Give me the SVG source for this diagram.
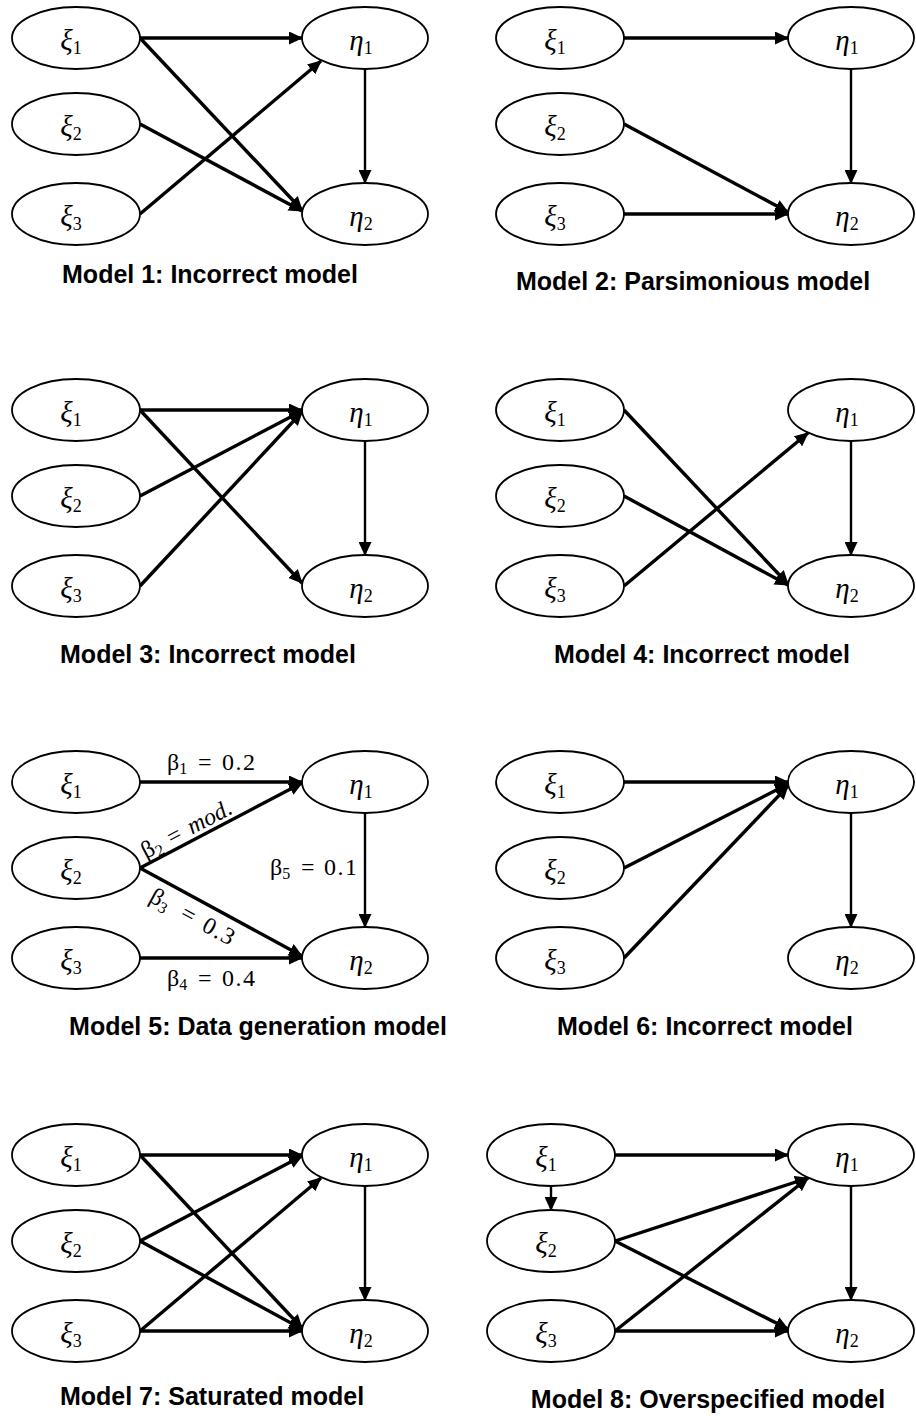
<svg xmlns="http://www.w3.org/2000/svg" width="916" height="1416" viewBox="0 0 916 1416">
<defs>
<marker id="ah" markerUnits="userSpaceOnUse" markerWidth="14" markerHeight="13" refX="13" refY="6.5" orient="auto">
<path d="M0,0 L14,6.5 L0,13 z" fill="#000"/>
</marker>
<style>
.nd{fill:#fff;stroke:#000;stroke-width:1.8}
.lbl{font-family:"Liberation Serif","DejaVu Serif",serif;font-style:italic;font-size:29px;text-anchor:middle;fill:#000}
.sub{font-style:normal;font-size:18px}
.e{stroke:#000;stroke-width:3.4;fill:none;marker-end:url(#ah)}
.v{stroke:#000;stroke-width:2.4;fill:none;marker-end:url(#ah)}
.cap{font-family:"Liberation Sans",Arial,sans-serif;font-weight:bold;font-size:25px;text-anchor:middle;fill:#000}
.coef{font-family:"Liberation Serif","DejaVu Serif",serif;font-size:24px;fill:#000}
.cs{font-size:16px}
</style>
</defs>

<g id="connectors">
<g id="c-m1">
<path class="e" d="M140,38 L302,38"/>
<path class="e" d="M140,38 L302,210"/>
<path class="e" d="M140,124 L302,211"/>
<path class="e" d="M140,214 L321,61"/>
<path class="v" d="M365,69 L365,183"/>
</g>
<g id="c-m2">
<path class="e" d="M624,38 L788,38"/>
<path class="e" d="M624,124 L788,212"/>
<path class="e" d="M624,214 L788,214"/>
<path class="v" d="M851,69 L851,183"/>
</g>
<g id="c-m3">
<path class="e" d="M140,410 L302,410"/>
<path class="e" d="M140,410 L302,583"/>
<path class="e" d="M140,496 L302,411"/>
<path class="e" d="M140,586 L302,412"/>
<path class="v" d="M365,441 L365,555"/>
</g>
<g id="c-m4">
<path class="e" d="M624,410 L788,584"/>
<path class="e" d="M624,496 L788,585"/>
<path class="e" d="M624,586 L808,433"/>
<path class="v" d="M851,441 L851,555"/>
</g>
<g id="c-m5">
<path class="e" d="M140,782 L302,782"/>
<path class="e" d="M140,868 L302,783"/>
<path class="e" d="M140,868 L302,956"/>
<path class="e" d="M140,958 L302,958"/>
<path class="v" d="M365,813 L365,927"/>
</g>
<g id="c-m6">
<path class="e" d="M624,782 L788,782"/>
<path class="e" d="M624,868 L788,784"/>
<path class="e" d="M624,958 L788,786"/>
<path class="v" d="M851,813 L851,927"/>
</g>
<g id="c-m7">
<path class="e" d="M140,1155 L302,1155"/>
<path class="e" d="M140,1155 L302,1328"/>
<path class="e" d="M140,1241 L302,1156"/>
<path class="e" d="M140,1241 L302,1329"/>
<path class="e" d="M140,1331 L321,1178"/>
<path class="e" d="M140,1331 L302,1331"/>
<path class="v" d="M365,1186 L365,1300"/>
</g>
<g id="c-m8">
<path class="e" d="M615,1155 L788,1155"/>
<path class="v" d="M551,1186 L551,1210"/>
<path class="e" d="M615,1241 L808,1178"/>
<path class="e" d="M615,1331 L808,1178"/>
<path class="e" d="M615,1241 L788,1329"/>
<path class="e" d="M615,1331 L788,1331"/>
<path class="v" d="M851,1186 L851,1300"/>
</g>
</g>

<!-- Model 1 -->
<g id="m1-xi1"><ellipse class="nd" cx="76" cy="38" rx="64" ry="31"/><text class="lbl" x="71" y="50">ξ<tspan class="sub" dy="4">1</tspan></text></g>
<g id="m1-xi2"><ellipse class="nd" cx="76" cy="124" rx="64" ry="31"/><text class="lbl" x="71" y="136">ξ<tspan class="sub" dy="4">2</tspan></text></g>
<g id="m1-xi3"><ellipse class="nd" cx="76" cy="214" rx="64" ry="31"/><text class="lbl" x="71" y="226">ξ<tspan class="sub" dy="4">3</tspan></text></g>
<g id="m1-eta1"><ellipse class="nd" cx="365" cy="38" rx="63" ry="31"/><text class="lbl" x="361" y="50">η<tspan class="sub" dy="4">1</tspan></text></g>
<g id="m1-eta2"><ellipse class="nd" cx="365" cy="214" rx="63" ry="31"/><text class="lbl" x="361" y="226">η<tspan class="sub" dy="4">2</tspan></text></g>
<text class="cap" x="210" y="283">Model 1: Incorrect model</text>

<!-- Model 2 -->
<g id="m2-xi1"><ellipse class="nd" cx="560" cy="38" rx="64" ry="31"/><text class="lbl" x="555" y="50">ξ<tspan class="sub" dy="4">1</tspan></text></g>
<g id="m2-xi2"><ellipse class="nd" cx="560" cy="124" rx="64" ry="31"/><text class="lbl" x="555" y="136">ξ<tspan class="sub" dy="4">2</tspan></text></g>
<g id="m2-xi3"><ellipse class="nd" cx="560" cy="214" rx="64" ry="31"/><text class="lbl" x="555" y="226">ξ<tspan class="sub" dy="4">3</tspan></text></g>
<g id="m2-eta1"><ellipse class="nd" cx="851" cy="38" rx="63" ry="31"/><text class="lbl" x="847" y="50">η<tspan class="sub" dy="4">1</tspan></text></g>
<g id="m2-eta2"><ellipse class="nd" cx="851" cy="214" rx="63" ry="31"/><text class="lbl" x="847" y="226">η<tspan class="sub" dy="4">2</tspan></text></g>
<text class="cap" x="693" y="290">Model 2: Parsimonious model</text>

<!-- Model 3 -->
<g id="m3-xi1"><ellipse class="nd" cx="76" cy="410" rx="64" ry="31"/><text class="lbl" x="71" y="422">ξ<tspan class="sub" dy="4">1</tspan></text></g>
<g id="m3-xi2"><ellipse class="nd" cx="76" cy="496" rx="64" ry="31"/><text class="lbl" x="71" y="508">ξ<tspan class="sub" dy="4">2</tspan></text></g>
<g id="m3-xi3"><ellipse class="nd" cx="76" cy="586" rx="64" ry="31"/><text class="lbl" x="71" y="598">ξ<tspan class="sub" dy="4">3</tspan></text></g>
<g id="m3-eta1"><ellipse class="nd" cx="365" cy="410" rx="63" ry="31"/><text class="lbl" x="361" y="422">η<tspan class="sub" dy="4">1</tspan></text></g>
<g id="m3-eta2"><ellipse class="nd" cx="365" cy="586" rx="63" ry="31"/><text class="lbl" x="361" y="598">η<tspan class="sub" dy="4">2</tspan></text></g>
<text class="cap" x="208" y="663">Model 3: Incorrect model</text>

<!-- Model 4 -->
<g id="m4-xi1"><ellipse class="nd" cx="560" cy="410" rx="64" ry="31"/><text class="lbl" x="555" y="422">ξ<tspan class="sub" dy="4">1</tspan></text></g>
<g id="m4-xi2"><ellipse class="nd" cx="560" cy="496" rx="64" ry="31"/><text class="lbl" x="555" y="508">ξ<tspan class="sub" dy="4">2</tspan></text></g>
<g id="m4-xi3"><ellipse class="nd" cx="560" cy="586" rx="64" ry="31"/><text class="lbl" x="555" y="598">ξ<tspan class="sub" dy="4">3</tspan></text></g>
<g id="m4-eta1"><ellipse class="nd" cx="851" cy="410" rx="63" ry="31"/><text class="lbl" x="847" y="422">η<tspan class="sub" dy="4">1</tspan></text></g>
<g id="m4-eta2"><ellipse class="nd" cx="851" cy="586" rx="63" ry="31"/><text class="lbl" x="847" y="598">η<tspan class="sub" dy="4">2</tspan></text></g>
<text class="cap" x="702" y="663">Model 4: Incorrect model</text>

<!-- Model 5 -->
<g id="m5-xi1"><ellipse class="nd" cx="76" cy="782" rx="64" ry="31"/><text class="lbl" x="71" y="794">ξ<tspan class="sub" dy="4">1</tspan></text></g>
<g id="m5-xi2"><ellipse class="nd" cx="76" cy="868" rx="64" ry="31"/><text class="lbl" x="71" y="880">ξ<tspan class="sub" dy="4">2</tspan></text></g>
<g id="m5-xi3"><ellipse class="nd" cx="76" cy="958" rx="64" ry="31"/><text class="lbl" x="71" y="970">ξ<tspan class="sub" dy="4">3</tspan></text></g>
<g id="m5-eta1"><ellipse class="nd" cx="365" cy="782" rx="63" ry="31"/><text class="lbl" x="361" y="794">η<tspan class="sub" dy="4">1</tspan></text></g>
<g id="m5-eta2"><ellipse class="nd" cx="365" cy="958" rx="63" ry="31"/><text class="lbl" x="361" y="970">η<tspan class="sub" dy="4">2</tspan></text></g>
<g id="m5-coefs">
<text class="coef" x="167" y="770">β<tspan class="cs" dy="4">1</tspan><tspan x="198" dy="-4">=</tspan><tspan x="222" letter-spacing="1.5">0.2</tspan></text>
<text class="coef" x="167" y="986">β<tspan class="cs" dy="4">4</tspan><tspan x="198" dy="-4">=</tspan><tspan x="222" letter-spacing="1.5">0.4</tspan></text>
<text class="coef" x="270" y="875">β<tspan class="cs" dy="4">5</tspan><tspan x="301" dy="-4">=</tspan><tspan x="324" letter-spacing="1.5">0.1</tspan></text>
<text class="coef" transform="translate(146,859) rotate(-27.7)" x="0" y="0">β<tspan class="cs" dy="4">2</tspan><tspan x="29" dy="-4">=</tspan><tspan x="52" font-style="italic">mod.</tspan></text>
<text class="coef" transform="translate(148,901) rotate(28.8)" x="0" y="0">β<tspan class="cs" dy="4">3</tspan><tspan x="35" dy="-4">=</tspan><tspan x="60" letter-spacing="1.5">0.3</tspan></text>
</g>
<text class="cap" x="258" y="1035">Model 5: Data generation model</text>

<!-- Model 6 -->
<g id="m6-xi1"><ellipse class="nd" cx="560" cy="782" rx="64" ry="31"/><text class="lbl" x="555" y="794">ξ<tspan class="sub" dy="4">1</tspan></text></g>
<g id="m6-xi2"><ellipse class="nd" cx="560" cy="868" rx="64" ry="31"/><text class="lbl" x="555" y="880">ξ<tspan class="sub" dy="4">2</tspan></text></g>
<g id="m6-xi3"><ellipse class="nd" cx="560" cy="958" rx="64" ry="31"/><text class="lbl" x="555" y="970">ξ<tspan class="sub" dy="4">3</tspan></text></g>
<g id="m6-eta1"><ellipse class="nd" cx="851" cy="782" rx="63" ry="31"/><text class="lbl" x="847" y="794">η<tspan class="sub" dy="4">1</tspan></text></g>
<g id="m6-eta2"><ellipse class="nd" cx="851" cy="958" rx="63" ry="31"/><text class="lbl" x="847" y="970">η<tspan class="sub" dy="4">2</tspan></text></g>
<text class="cap" x="705" y="1035">Model 6: Incorrect model</text>

<!-- Model 7 -->
<g id="m7-xi1"><ellipse class="nd" cx="76" cy="1155" rx="64" ry="31"/><text class="lbl" x="71" y="1167">ξ<tspan class="sub" dy="4">1</tspan></text></g>
<g id="m7-xi2"><ellipse class="nd" cx="76" cy="1241" rx="64" ry="31"/><text class="lbl" x="71" y="1253">ξ<tspan class="sub" dy="4">2</tspan></text></g>
<g id="m7-xi3"><ellipse class="nd" cx="76" cy="1331" rx="64" ry="31"/><text class="lbl" x="71" y="1343">ξ<tspan class="sub" dy="4">3</tspan></text></g>
<g id="m7-eta1"><ellipse class="nd" cx="365" cy="1155" rx="63" ry="31"/><text class="lbl" x="361" y="1167">η<tspan class="sub" dy="4">1</tspan></text></g>
<g id="m7-eta2"><ellipse class="nd" cx="365" cy="1331" rx="63" ry="31"/><text class="lbl" x="361" y="1343">η<tspan class="sub" dy="4">2</tspan></text></g>
<text class="cap" x="212" y="1405">Model 7: Saturated model</text>

<!-- Model 8 -->
<g id="m8-xi1"><ellipse class="nd" cx="551" cy="1155" rx="64" ry="31"/><text class="lbl" x="546" y="1167">ξ<tspan class="sub" dy="4">1</tspan></text></g>
<g id="m8-xi2"><ellipse class="nd" cx="551" cy="1241" rx="64" ry="31"/><text class="lbl" x="546" y="1253">ξ<tspan class="sub" dy="4">2</tspan></text></g>
<g id="m8-xi3"><ellipse class="nd" cx="551" cy="1331" rx="64" ry="31"/><text class="lbl" x="546" y="1343">ξ<tspan class="sub" dy="4">3</tspan></text></g>
<g id="m8-eta1"><ellipse class="nd" cx="851" cy="1155" rx="63" ry="31"/><text class="lbl" x="847" y="1167">η<tspan class="sub" dy="4">1</tspan></text></g>
<g id="m8-eta2"><ellipse class="nd" cx="851" cy="1331" rx="63" ry="31"/><text class="lbl" x="847" y="1343">η<tspan class="sub" dy="4">2</tspan></text></g>
<text class="cap" x="708" y="1408">Model 8: Overspecified model</text>
</svg>
